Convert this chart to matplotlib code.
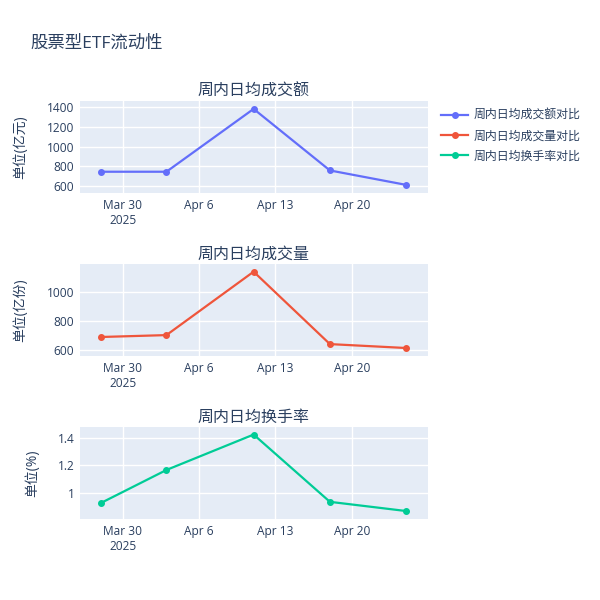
## import libraries ##
import matplotlib
matplotlib.use('Agg')
import matplotlib.pyplot as plt
import numpy as np
import pandas as pd

plt.rcParams['font.family'] = ['Open Sans', 'Noto Sans CJK SC', 'DejaVu Sans']

## data ##
dates = pd.to_datetime(['2025-03-28', '2025-04-03', '2025-04-11', '2025-04-18', '2025-04-25'])
amount = [745, 745, 1380, 758, 612]          # 周内日均成交额 (亿元)
volume = [690, 703, 1140, 641, 614]          # 周内日均成交量 (亿份)
turnover = [0.927, 1.167, 1.425, 0.935, 0.868]  # 周内日均换手率 (%)

series_names = ['周内日均成交额对比', '周内日均成交量对比', '周内日均换手率对比']
sub_titles = ['周内日均成交额', '周内日均成交量', '周内日均换手率']
y_titles = ['单位(亿元)', '单位(亿份)', '单位(%)']
tick_dates = pd.to_datetime(['2025-03-30', '2025-04-06', '2025-04-13', '2025-04-20'])
tick_labels = ['Mar 30\n2025', 'Apr 6', 'Apr 13', 'Apr 20']

colors = ['#636efa', '#EF553B', '#00cc96']
text_color = '#2a3f5f'

## set up figure ##
fig = plt.figure(figsize=(6, 6), dpi=100)
fig.text(30 / 600, 1 - 44 / 600, '股票型ETF流动性', fontsize=12.5, color=text_color, va='center')

panels = [
    (amount, [600, 800, 1000, 1200, 1400], ['600', '800', '1000', '1200', '1400'], (530, 1460), 193, -0.15),
    (volume, [600, 800, 1000], ['600', '800', '1000'], (559, 1193), 356, -0.15),
    (turnover, [1.0, 1.2, 1.4], ['1', '1.2', '1.4'], (0.81, 1.48), 519, -0.115),
]

handles = []
for i, (vals, yt, ytl, ylim, bottom_px, lab_x) in enumerate(panels):
    ax = fig.add_axes([80 / 600, 1 - bottom_px / 600, 348 / 600, 92 / 600])
    ax.set_facecolor('#E5ECF6')
    for s in ax.spines.values():
        s.set_visible(False)
    line, = ax.plot(dates, vals, color=colors[i], marker='o', markersize=4, linewidth=1.6)
    handles.append(line)
    ax.set_xlim(dates.min() - pd.Timedelta(days=1.93), dates.max() + pd.Timedelta(days=2.0))
    ax.set_ylim(*ylim)
    ax.set_xticks(tick_dates)
    ax.set_xticklabels(tick_labels)
    ax.set_yticks(yt)
    ax.set_yticklabels(ytl)
    ax.grid(True, color='white', linewidth=1)
    ax.set_axisbelow(True)
    ax.tick_params(length=0, labelsize=8.6, colors=text_color, pad=4)
    ax.set_title(sub_titles[i], fontsize=11.5, color=text_color, pad=4)
    ax.set_ylabel(y_titles[i], fontsize=10, color=text_color)
    ax.yaxis.set_label_coords(lab_x, 0.5)

## legend ##
fig.legend(handles, series_names, loc='upper left', bbox_to_anchor=(436 / 600, 1 - 104 / 600),
           frameon=False, fontsize=8.6, labelcolor=text_color, handlelength=2.3,
           handletextpad=0.45, labelspacing=0.62, borderaxespad=0, borderpad=0.4)

## save chart ##
plt.savefig('out.png', dpi=100)
